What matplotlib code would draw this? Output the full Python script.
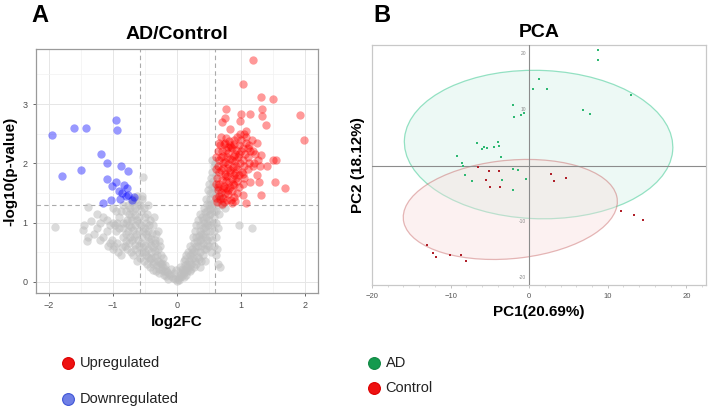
import numpy as np
import matplotlib
matplotlib.use("Agg")
import matplotlib.pyplot as plt
from matplotlib.patches import Ellipse
from matplotlib.lines import Line2D

plt.rcParams['font.family'] = ['Liberation Sans', 'DejaVu Sans']

# ---- volcano data (log2FC, -log10 p) ----
ns_points = [
    (0, 0.02), (0.02, 0.05), (-0.03, 0.04), (0.05, 0.08), (-0.06, 0.07), (0.08, 0.1), (-0.09, 0.1),
    (0.1, 0.15), (-0.12, 0.13), (0.12, 0.2), (-0.15, 0.16), (0.04, 0.12), (-0.05, 0.15), (0.14, 0.12),
    (-0.18, 0.2), (0.16, 0.25), (-0.2, 0.12), (0.2, 0.18), (0.07, 0.22), (-0.1, 0.22),
    (-0.22, 0.25), (-0.25, 0.3), (-0.28, 0.22), (-0.3, 0.35), (-0.32, 0.28), (-0.35, 0.42), (-0.38, 0.3),
    (-0.4, 0.5), (-0.42, 0.38), (-0.45, 0.55), (-0.48, 0.45), (-0.5, 0.62), (-0.25, 0.45), (-0.3, 0.55),
    (-0.35, 0.65), (-0.4, 0.72), (-0.45, 0.85), (-0.5, 0.9), (-0.28, 0.15), (-0.33, 0.18), (-0.38, 0.2),
    (-0.43, 0.25), (-0.47, 0.3), (-0.52, 0.35), (-0.22, 0.4), (-0.27, 0.6), (-0.33, 0.8), (-0.38, 0.95),
    (-0.42, 1.05), (-0.47, 1.15), (-0.52, 1.25), (-0.55, 1.4), (-0.53, 1.77), (-0.45, 1.3), (-0.36, 1.1),
    (-0.3, 0.85),
    (-0.55, 0.5), (-0.6, 0.6), (-0.65, 0.55), (-0.7, 0.7), (-0.75, 0.65), (-0.8, 0.8), (-0.85, 0.75),
    (-0.9, 0.9), (-0.95, 0.85), (-1.0, 1.0), (-0.6, 0.85), (-0.65, 0.95), (-0.7, 1.05), (-0.75, 1.15),
    (-0.8, 1.2), (-0.85, 1.3), (-0.6, 1.1), (-0.65, 1.25), (-0.7, 1.35), (-0.58, 0.4), (-0.62, 0.35),
    (-0.68, 0.45), (-0.72, 0.5), (-0.78, 0.55), (-0.82, 0.6), (-0.88, 0.45), (-0.92, 0.5), (-0.98, 0.6),
    (-1.02, 0.7), (-0.55, 1.45), (-0.62, 1.45), (-0.68, 1.4), (-0.58, 1.3), (-0.9, 1.1), (-0.95, 1.2),
    (-1.0, 1.25), (-0.75, 0.95), (-0.85, 1.0), (-0.55, 0.75), (-0.67, 0.75),
    (-1.05, 0.95), (-1.1, 1.05), (-1.15, 1.1), (-1.2, 1.0), (-1.25, 1.15), (-1.39, 1.27), (-1.1, 0.85),
    (-1.15, 0.75), (-1.2, 0.7), (-1.3, 0.8), (-1.39, 0.75), (-1.46, 0.88), (-1.45, 0.95), (-1.4, 0.68),
    (-1.35, 1.02), (-1.05, 0.65), (-1.25, 0.9), (-1.9, 0.93), (-1.0, 0.55), (-1.08, 0.6),
    # extra fill of the left arm
    (-0.14, 0.05), (-0.17, 0.1), (-0.21, 0.18), (-0.24, 0.2), (-0.27, 0.32), (-0.31, 0.45), (-0.34, 0.52),
    (-0.37, 0.58), (-0.41, 0.62), (-0.44, 0.68), (-0.46, 0.75), (-0.49, 0.8), (-0.53, 0.85), (-0.56, 0.95),
    (-0.59, 1.0), (-0.63, 1.05), (-0.66, 1.12), (-0.69, 1.2), (-0.73, 1.25), (-0.77, 1.3), (-0.36, 0.33),
    (-0.41, 0.4), (-0.45, 0.42), (-0.5, 0.5), (-0.53, 0.58), (-0.57, 0.65), (-0.61, 0.7), (-0.64, 0.8),
    (-0.68, 0.88), (-0.72, 0.92), (-0.76, 0.85), (-0.8, 1.0), (-0.84, 0.9), (-0.88, 1.2), (-0.93, 1.0),
    (-0.97, 0.95), (-0.6, 0.48), (-0.66, 0.62), (-0.74, 0.75), (-0.79, 0.68), (-0.86, 0.58), (-0.94, 0.65),
    (-0.48, 1.0), (-0.44, 0.95), (-0.39, 0.82), (-0.34, 0.7), (-0.29, 0.68), (-0.23, 0.32), (-0.19, 0.28),
    (-0.5, 1.1), (-0.57, 1.2), (-0.61, 1.3), (-0.65, 1.38), (-0.72, 1.1), (-0.78, 1.05),
    # right arm
    (0.22, 0.3), (0.25, 0.4), (0.28, 0.35), (0.3, 0.5), (0.18, 0.35), (0.2, 0.45), (0.24, 0.55),
    (0.27, 0.65), (0.3, 0.75), (0.15, 0.3), (0.12, 0.28), (0.22, 0.22), (0.26, 0.25), (0.3, 0.3),
    (0.32, 0.42), (0.1, 0.35), (0.17, 0.5), (0.05, 0.25), (-0.02, 0.2), (0.28, 0.85),
    (0.33, 0.6), (0.35, 0.7), (0.37, 0.8), (0.4, 0.9), (0.42, 1.0), (0.45, 1.1), (0.47, 1.2),
    (0.5, 1.3), (0.52, 1.4), (0.55, 1.5), (0.35, 0.5), (0.38, 0.6), (0.4, 0.65), (0.43, 0.75),
    (0.45, 0.85), (0.48, 0.95), (0.5, 1.05), (0.52, 1.15), (0.55, 1.25), (0.57, 1.35), (0.36, 0.95),
    (0.39, 1.1), (0.42, 1.25), (0.45, 1.4), (0.48, 1.55), (0.5, 1.65), (0.53, 1.75), (0.55, 1.85),
    (0.57, 1.95), (0.55, 2.05), (0.6, 1.8), (0.58, 1.6), (0.4, 0.45), (0.45, 0.55), (0.5, 0.6),
    (0.55, 0.7), (0.58, 0.85), (0.6, 1.0), (0.6, 1.2), (0.62, 1.4), (0.47, 0.7), (0.52, 0.85),
    (0.56, 1.0), (0.58, 1.1), (0.44, 0.35), (0.38, 0.35), (0.63, 0.3), (0.67, 0.25), (0.62, 0.55),
    (0.6, 0.45), (0.97, 0.95), (1.17, 0.9), (0.65, 1.15), (0.7, 1.3), (0.68, 1.45), (0.75, 1.25),
    # extra fill of the right arm
    (0.03, 0.03), (0.06, 0.15), (0.09, 0.2), (0.11, 0.08), (0.13, 0.38), (0.16, 0.18), (0.19, 0.25),
    (0.21, 0.38), (0.23, 0.48), (0.26, 0.52), (0.29, 0.6), (0.31, 0.68), (0.34, 0.78), (0.36, 0.85),
    (0.38, 0.72), (0.41, 0.8), (0.43, 0.92), (0.46, 1.0), (0.49, 1.12), (0.51, 1.22), (0.53, 1.32),
    (0.54, 1.6), (0.56, 1.7), (0.51, 1.5), (0.47, 1.32), (0.44, 1.18), (0.41, 1.05), (0.34, 0.38),
    (0.36, 0.25), (0.42, 0.55), (0.46, 0.62), (0.49, 0.75), (0.53, 0.95), (0.57, 1.2), (0.59, 1.45),
    (0.61, 1.55), (0.59, 2.0), (0.53, 0.5), (0.57, 0.6), (0.61, 0.75), (0.64, 0.9), (0.66, 1.3),
    (0.29, 0.95), (0.32, 1.05), (0.35, 1.15), (0.25, 0.75), (0.2, 0.6), (0.14, 0.45),
]

up_points = [
    (1.19, 3.74), (1.03, 3.33), (1.31, 3.11), (1.50, 3.08), (0.76, 2.92), (1.32, 2.92), (1.0, 2.83),
    (1.14, 2.83), (1.91, 2.81), (0.74, 2.76), (1.33, 2.79), (0.70, 2.69), (0.98, 2.72), (0.83, 2.58),
    (1.38, 2.64), (1.98, 2.39), (1.08, 2.54), (1.54, 2.06), (1.49, 2.05), (1.40, 1.96), (1.53, 1.69),
    (1.69, 1.58), (1.31, 1.47), (1.07, 1.33), (1.14, 1.69), (1.27, 1.69), (1.24, 1.80), (1.03, 1.47),
    (1.31, 2.14), (1.18, 2.2), (1.18, 1.96), (1.03, 1.82), (1.24, 2.34), (1.11, 2.25),
    (0.62, 1.35), (0.65, 1.45), (0.63, 1.55), (0.66, 1.65), (0.62, 1.75), (0.65, 1.85), (0.63, 1.95),
    (0.66, 2.05), (0.64, 2.2), (0.67, 2.3), (0.7, 1.32), (0.72, 1.42), (0.69, 1.52), (0.73, 1.62),
    (0.7, 1.72), (0.74, 1.82), (0.71, 1.92), (0.75, 2.02), (0.72, 2.12), (0.76, 2.22), (0.73, 2.32),
    (0.77, 2.42), (0.78, 1.38), (0.8, 1.48), (0.77, 1.58), (0.81, 1.68), (0.78, 1.78), (0.82, 1.88),
    (0.79, 1.98), (0.83, 2.08), (0.8, 2.18), (0.84, 2.28), (0.81, 2.38), (0.86, 1.33), (0.88, 1.43),
    (0.85, 1.53), (0.89, 1.63), (0.86, 1.73), (0.9, 1.83), (0.87, 1.93), (0.91, 2.03), (0.88, 2.13),
    (0.92, 2.23), (0.89, 2.33), (0.93, 2.45), (0.94, 1.5), (0.96, 1.6), (0.93, 1.7), (0.97, 1.8),
    (0.94, 1.9), (0.98, 2.0), (0.95, 2.1), (0.99, 2.2), (0.96, 2.3), (1.0, 2.4), (0.98, 2.5),
    (1.02, 1.65), (1.04, 1.75), (1.01, 1.85), (1.05, 1.95), (1.02, 2.05), (1.06, 2.15), (1.03, 2.25),
    (1.07, 2.35), (1.05, 2.5), (1.08, 2.45), (1.1, 1.9), (1.12, 2.0), (1.1, 2.1), (1.14, 2.2),
    (1.12, 2.3), (1.16, 2.4), (1.2, 2.0), (1.22, 2.15), (1.26, 2.05), (1.3, 1.95), (0.84, 1.38),
    (0.9, 1.36), (0.74, 1.5), (0.83, 1.6), (0.76, 1.7), (0.88, 1.8), (0.68, 1.88), (0.8, 1.92),
    (0.92, 1.96), (0.72, 2.0), (0.85, 2.05), (0.97, 2.15), (0.7, 2.2), (0.82, 2.3), (0.88, 2.4),
    (0.75, 2.35), (0.65, 2.35), (0.68, 2.45), (0.6, 1.65), (0.6, 1.9), (0.6, 2.1), (0.61, 1.42),
    (0.67, 1.4), (0.71, 1.58), (0.79, 1.55), (0.87, 1.65), (0.75, 1.78), (0.83, 1.85), (0.69, 2.1),
    (0.78, 2.1), (0.9, 2.15), (0.86, 2.25), (0.79, 2.28), (0.92, 1.75), (0.64, 1.6), (0.73, 1.35),
]

down_points = [
    (-1.95, 2.48), (-1.79, 1.78), (-1.6, 2.59), (-1.5, 1.88), (-1.42, 2.59), (-1.19, 2.15),
    (-1.10, 2.01), (-1.10, 1.73), (-0.96, 2.73), (-0.94, 2.56), (-0.87, 1.95), (-0.77, 1.87),
    (-0.95, 1.69), (-1.01, 1.61), (-0.83, 1.64), (-0.90, 1.54), (-0.78, 1.58), (-0.86, 1.49),
    (-0.76, 1.46), (-0.67, 1.43), (-0.70, 1.38), (-0.89, 1.39), (-1.03, 1.38), (-1.16, 1.33),
    (-0.8, 1.44),
]

fc_cut = 0.585
p_cut = 1.3

# ---- PCA scores (PC1, PC2) ----
ad_pc1 = [8.75, 8.75, 1.2, 0.5, 2.25, 12.9, -2.1, 6.8, 7.8, -1.9, -1.0, -0.6, -4.0, -6.7, -5.8,
          -5.4, -4.5, -3.9, -6.0, -9.2, -3.6, -8.6, -8.4, -2.0, -1.4, -8.2, -7.3, -3.4, -0.4, -2.1]
ad_pc2 = [20.7, 18.9, 15.5, 13.8, 13.8, 12.7, 10.8, 10.0, 9.2, 8.8, 9.1, 9.4, 4.3, 4.0, 3.4,
          3.2, 3.4, 3.6, 3.0, 1.8, 1.5, 0.5, -0.1, -0.6, -0.8, -1.7, -2.8, -2.6, -2.4, -4.4]
ctrl_pc1 = [-6.5, -5.1, -3.9, -5.5, -5.0, -3.7, 2.8, 3.1, 4.7, 11.7, 13.4, 14.5,
            -13.0, -12.3, -11.8, -10.1, -8.7, -8.0]
ctrl_pc2 = [-0.2, -1.0, -1.0, -2.6, -3.7, -3.7, -1.4, -2.8, -2.1, -8.0, -8.75, -9.6,
            -14.2, -15.6, -16.3, -16.0, -16.0, -17.1]

fig = plt.figure(figsize=(7.09, 4.11), dpi=100)

# ================= Panel A: volcano =================
ax1 = fig.add_axes([0.0508, 0.287, 0.398, 0.594])
ns = np.array(ns_points)
up = np.array(up_points)
dn = np.array(down_points)
ax1.scatter(ns[:, 0], ns[:, 1], s=36, color='#bebebe', alpha=0.55, linewidths=0, zorder=2)
ax1.scatter(up[:, 0], up[:, 1], s=36, color='#ff0000', alpha=0.4, linewidths=0, zorder=3)
ax1.scatter(dn[:, 0], dn[:, 1], s=36, color='#0000ff', alpha=0.4, linewidths=0, zorder=3)
for v in (-fc_cut, fc_cut):
    ax1.axvline(v, color='#aaaaaa', ls=(0, (4, 3)), lw=0.8, zorder=1)
ax1.axhline(p_cut, color='#aaaaaa', ls=(0, (4, 3)), lw=0.8, zorder=1)
ax1.set_xlim(-2.2, 2.2)
ax1.set_ylim(-0.19, 3.93)
ax1.set_xticks([-2, -1, 0, 1, 2])
ax1.set_yticks([0, 1, 2, 3])
ax1.set_xticks([-1.5, -0.5, 0.5, 1.5], minor=True)
ax1.set_yticks([0.5, 1.5, 2.5, 3.5], minor=True)
ax1.grid(True, which='major', color='#e6e6e6', lw=0.7, zorder=0)
ax1.grid(True, which='minor', color='#f2f2f2', lw=0.5, zorder=0)
ax1.set_axisbelow(True)
ax1.tick_params(which='major', labelsize=6.5, labelcolor='#4d4d4d', color='#4d4d4d', length=2.5, width=0.6)
ax1.tick_params(which='minor', length=0)
for sp in ax1.spines.values():
    sp.set_color('#9a9a9a')
    sp.set_linewidth(0.9)
ax1.set_xlabel('log2FC', fontsize=11, fontweight='bold', labelpad=3)
ax1.set_ylabel('-log10(p-value)', fontsize=11, fontweight='bold', labelpad=4)
ax1.set_title('AD/Control', fontsize=14, fontweight='bold', pad=7)

# ================= Panel B: PCA =================
ax2 = fig.add_axes([0.5247, 0.3066, 0.471, 0.584])
ax2.set_xlim(-20, 22.5)
ax2.set_ylim(-21.3, 21.6)
ax2.add_patch(Ellipse((1.2, 3.8), 34.2, 26.5, angle=-4, facecolor='#e8f8f2', alpha=0.75,
                      edgecolor='#72d8b0', lw=0.9, zorder=1))
ax2.add_patch(Ellipse((-2.4, -7.8), 27.5, 17.5, angle=10, facecolor='#f8dede', alpha=0.4,
                      edgecolor='#c05050', lw=0.9, zorder=2))
ax2.axhline(0, color='#8c8c8c', lw=0.8, zorder=3)
ax2.axvline(0, color='#8c8c8c', lw=0.8, zorder=3)
ax2.scatter(ad_pc1, ad_pc2, s=2.5, color='#2eb872', marker='s', linewidths=0, zorder=4)
ax2.scatter(ctrl_pc1, ctrl_pc2, s=2.5, color='#b0202a', marker='s', linewidths=0, zorder=4)
ax2.set_xticks([-20, -10, 0, 10, 20])
ax2.set_xticks(np.arange(-20, 23, 2), minor=True)
ax2.set_yticks([])
for v in (20, 10, -10, -20):
    ax2.text(-0.4, v, str(v), fontsize=3.5, color='#888888', ha='right', va='center', zorder=4)
ax2.tick_params(which='major', labelsize=5.5, labelcolor='#555555', color='#aaaaaa', length=2, width=0.5)
ax2.tick_params(which='minor', color='#bbbbbb', length=1.2, width=0.4)
for sp in ax2.spines.values():
    sp.set_color('#c8c8c8')
    sp.set_linewidth(0.9)
ax2.set_xlabel('PC1(20.69%)', fontsize=11, fontweight='bold', labelpad=4)
ax2.set_ylabel('PC2 (18.12%)', fontsize=11, fontweight='bold', labelpad=5)
ax2.set_title('PCA', fontsize=14, fontweight='bold', pad=6)

# panel letters
fig.text(0.044, 0.962, 'A', fontsize=17, fontweight='bold', ha='left', va='center')
fig.text(0.526, 0.962, 'B', fontsize=17, fontweight='bold', ha='left', va='center')

# legends
def legend_item(x, y, color, edge, label):
    fig.lines.append(Line2D([x], [y], marker='o', markersize=8.5, color=color, markeredgecolor=edge,
                            markeredgewidth=0.8, transform=fig.transFigure))
    fig.text(x + 0.017, y, label, fontsize=10.5, color='#222222', ha='left', va='center')

legend_item(0.096, 0.117, '#ee1111', '#dd0000', 'Upregulated')
legend_item(0.096, 0.030, '#6f7fe6', '#3f55d6', 'Downregulated')
legend_item(0.527, 0.117, '#149a4e', '#118844', 'AD')
legend_item(0.527, 0.055, '#ee1111', '#dd0000', 'Control')

fig.savefig('out.png', dpi=100)
